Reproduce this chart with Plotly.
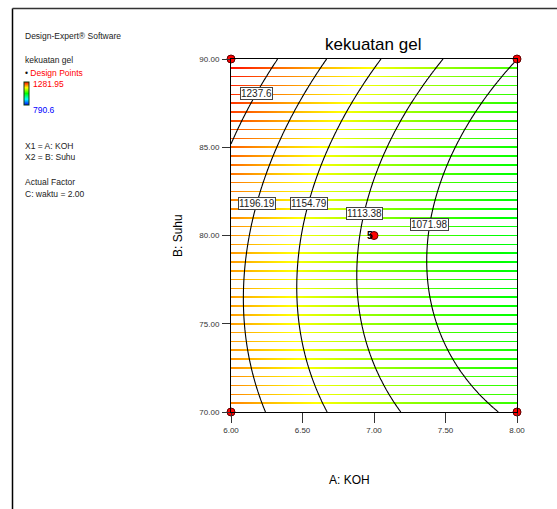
import numpy as np
import plotly.graph_objects as go

# Factor ranges (actual units)
KOH_RANGE = [6.0, 8.0]
SUHU_RANGE = [70.0, 90.0]

# Quadratic response model for kekuatan gel, coded factors a, b in [-1, 1]
COEF_INTERCEPT = 1104.17
COEF_A = -91.15
COEF_B = 16.22
COEF_AB = -13.05
COEF_AA = 16.5
COEF_BB = 39.47

# Observed response range (legend colour scale)
RESPONSE_MIN = 790.6
RESPONSE_MAX = 1281.95

# Contour levels and the Suhu value at which each label sits
CONTOUR_LEVELS = [1071.98, 1113.38, 1154.79, 1196.19, 1237.6]
LABEL_SUHU = [80.65, 81.27, 81.84, 81.84, 88.05]

# Design points (A: KOH, B: Suhu) and replicate counts
DESIGN_KOH = [6.0, 8.0, 6.0, 8.0, 7.0]
DESIGN_SUHU = [70.0, 70.0, 90.0, 90.0, 80.0]
DESIGN_REPS = [1, 1, 1, 1, 5]

X_TICKS = [6.0, 6.5, 7.0, 7.5, 8.0]
Y_TICKS = [70.0, 75.0, 80.0, 85.0, 90.0]
HATCH_STEP = 0.5

W, H = 557, 509
FONT = "Liberation Sans, Arial, sans-serif"


def px(x):
    return x / W


def py(y):
    return 1 - y / H


def response(A, B):
    a = (np.asarray(A) - (KOH_RANGE[0] + KOH_RANGE[1]) / 2) / ((KOH_RANGE[1] - KOH_RANGE[0]) / 2)
    b = (np.asarray(B) - (SUHU_RANGE[0] + SUHU_RANGE[1]) / 2) / ((SUHU_RANGE[1] - SUHU_RANGE[0]) / 2)
    return (COEF_INTERCEPT + COEF_A * a + COEF_B * b + COEF_AB * a * b
            + COEF_AA * a * a + COEF_BB * b * b)


def solve_koh(level, suhu):
    lo, hi = KOH_RANGE
    for _ in range(60):
        mid = (lo + hi) / 2
        if response(mid, suhu) > level:
            lo = mid
        else:
            hi = mid
    return (lo + hi) / 2


colorscale = [[0.0, "#0000ff"], [0.25, "#00ffff"], [0.5, "#00ff00"],
              [0.75, "#ffff00"], [1.0, "#ff0000"]]

fig = go.Figure()

# Hatched colour fill: thin horizontal strips coloured by the response
ncols = 320
x_edges = np.linspace(KOH_RANGE[0], KOH_RANGE[1], ncols + 1)
x_mid = (x_edges[:-1] + x_edges[1:]) / 2
lines = np.arange(SUHU_RANGE[0] + HATCH_STEP, SUHU_RANGE[1] - 1e-9, HATCH_STEP)
half = 0.045
y_edges = [SUHU_RANGE[0]]
z_rows = []
for yl in lines:
    y_edges += [yl - half, yl + half]
    z_rows.append([None] * ncols)
    z_rows.append([float(v) for v in response(x_mid, yl)])
z_rows.append([None] * ncols)
y_edges.append(SUHU_RANGE[1])

fig.add_trace(go.Heatmap(
    x=x_edges.tolist(), y=y_edges, z=z_rows,
    colorscale=colorscale, zmin=RESPONSE_MIN, zmax=RESPONSE_MAX,
    zsmooth=False, hoverinfo="skip",
    colorbar=dict(
        x=px(24), xanchor="left", y=py(93.5), yanchor="middle",
        lenmode="pixels", len=23, thicknessmode="pixels", thickness=5,
        xpad=0, ypad=0, outlinecolor="#0a3a0a", outlinewidth=1,
        showticklabels=False, ticks="",
    ),
))

# Contour lines
xg = np.linspace(KOH_RANGE[0], KOH_RANGE[1], 241)
yg = np.linspace(SUHU_RANGE[0], SUHU_RANGE[1], 241)
XX, YY = np.meshgrid(xg, yg)
ZZ = response(XX, YY)
for lev in CONTOUR_LEVELS:
    fig.add_trace(go.Contour(
        x=xg, y=yg, z=ZZ,
        contours=dict(start=lev, end=lev, size=1, coloring="none"),
        line=dict(color="black", width=1.1),
        showscale=False, hoverinfo="skip",
    ))

# Design points
fig.add_trace(go.Scatter(
    x=DESIGN_KOH, y=DESIGN_SUHU, mode="markers",
    marker=dict(color="#ff0000", size=8, line=dict(color="#600000", width=1)),
    cliponaxis=False, hoverinfo="skip",
))

annotations = []

# Contour value labels
for lev, suhu in zip(CONTOUR_LEVELS, LABEL_SUHU):
    annotations.append(dict(
        x=solve_koh(lev, suhu), y=suhu, xref="x", yref="y",
        text=f"{lev:g}", showarrow=False,
        font=dict(family=FONT, size=10, color="#222222"),
        bgcolor="white", bordercolor="#444444", borderwidth=1, borderpad=0,
    ))

# Replicate count at the centre point
for xk, ys, n in zip(DESIGN_KOH, DESIGN_SUHU, DESIGN_REPS):
    if n > 1:
        annotations.append(dict(
            x=xk, y=ys, xref="x", yref="y", text=f"<b>{n}</b>",
            showarrow=False, xanchor="right", xshift=1,
            font=dict(family=FONT, size=10, color="black"),
        ))

# Title and axis titles
annotations.append(dict(x=px(373), y=py(44), xref="paper", yref="paper",
                        text="kekuatan gel", showarrow=False,
                        xanchor="center", yanchor="middle",
                        font=dict(family=FONT, size=17, color="black")))
annotations.append(dict(x=px(349), y=py(480), xref="paper", yref="paper",
                        text="A: KOH", showarrow=False,
                        xanchor="center", yanchor="middle",
                        font=dict(family=FONT, size=12, color="black")))
annotations.append(dict(x=px(178), y=py(236), xref="paper", yref="paper",
                        text="B: Suhu", showarrow=False, textangle=-90,
                        xanchor="center", yanchor="middle",
                        font=dict(family=FONT, size=12, color="black")))

# Side panel text
side = [
    (36, "Design-Expert® Software", "#222222"),
    (60, "kekuatan gel", "#222222"),
    (73, "<span style='color:#111111'>•</span> Design Points", "#ff0000"),
    (146, "X1 = A: KOH", "#222222"),
    (157, "X2 = B: Suhu", "#222222"),
    (182, "Actual Factor", "#222222"),
    (194, "C: waktu = 2.00", "#222222"),
]
for yy, txt, col in side:
    annotations.append(dict(x=px(23), y=py(yy), xref="paper", yref="paper",
                            text=txt, showarrow=False, xanchor="left",
                            yanchor="middle",
                            font=dict(family=FONT, size=8.5, color=col)))
annotations.append(dict(x=px(31), y=py(84.5), xref="paper", yref="paper",
                        text=f"{RESPONSE_MAX:g}", showarrow=False,
                        xanchor="left", yanchor="middle",
                        font=dict(family=FONT, size=8.5, color="#ff0000")))
annotations.append(dict(x=px(31), y=py(109.5), xref="paper", yref="paper",
                        text=f"{RESPONSE_MIN:g}", showarrow=False,
                        xanchor="left", yanchor="middle",
                        font=dict(family=FONT, size=8.5, color="#0000ff")))

# Outer frame (left and top edges)
shapes = [
    dict(type="line", xref="paper", yref="paper", x0=px(12.5), x1=px(12.5),
         y0=py(8.5), y1=0, line=dict(color="black", width=1.5)),
    dict(type="line", xref="paper", yref="paper", x0=px(12.5), x1=1,
         y0=py(8.5), y1=py(8.5), line=dict(color="#333333", width=1.5)),
]

tickfont = dict(family=FONT, size=8, color="#333333")
fig.update_layout(
    width=W, height=H,
    margin=dict(l=0, r=0, t=0, b=0, pad=0, autoexpand=False),
    paper_bgcolor="white", plot_bgcolor="white", showlegend=False,
    annotations=annotations, shapes=shapes,
    xaxis=dict(domain=[px(231), px(517)], range=KOH_RANGE,
               tickvals=X_TICKS, ticktext=[f"{v:.2f}" for v in X_TICKS],
               ticks="outside", ticklen=10, tickcolor="#333333", tickwidth=1,
               showline=True, linecolor="black", linewidth=1, mirror=True,
               showgrid=False, zeroline=False, tickfont=tickfont),
    yaxis=dict(domain=[py(412), py(59)], range=SUHU_RANGE,
               tickvals=Y_TICKS, ticktext=[f"{v:.2f}" for v in Y_TICKS],
               ticks="outside", ticklen=8, tickcolor="#333333", tickwidth=1,
               showline=True, linecolor="black", linewidth=1, mirror=True,
               showgrid=False, zeroline=False, tickfont=tickfont,
               ticklabelstandoff=1),
)

fig.write_html("out.html")
